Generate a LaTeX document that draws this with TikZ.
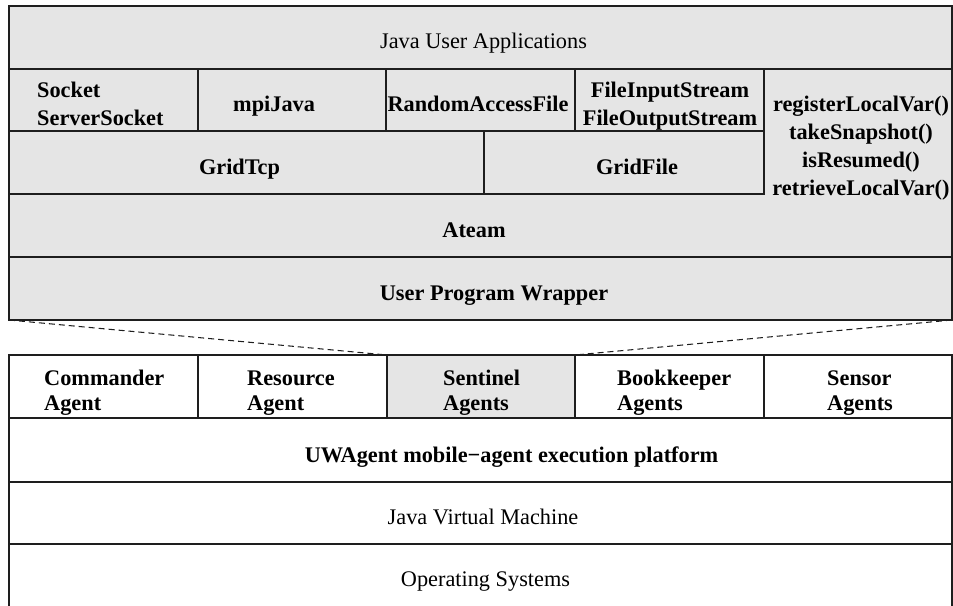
\documentclass[tikz,border=0pt]{standalone}
\usepackage{fontspec}
\setmainfont{Liberation Serif}
\usetikzlibrary{fit}
\definecolor{layergray}{HTML}{E5E5E5}
\definecolor{rule}{HTML}{1E1E1E}
\begin{document}
\begin{tikzpicture}[x=1pt,y=-1pt,
  cell/.style={draw=rule, line width=1.2pt, inner sep=0pt, outer sep=0pt, rectangle},
  graycell/.style={cell, fill=layergray},
  whitecell/.style={cell, fill=white},
  toptext/.style={inner sep=0pt, font=\fontsize{22.3}{28}\selectfont},
  topbold/.style={inner sep=0pt, font=\fontsize{22.3}{28}\selectfont\bfseries},
  bottext/.style={inner sep=0pt, font=\fontsize{22.3}{25}\selectfont},
  botbold/.style={inner sep=0pt, font=\fontsize{22.3}{25}\selectfont\bfseries},
  link/.style={draw=rule, line width=1.05pt, dash pattern=on 6pt off 4pt}]
\useasboundingbox (0,0) rectangle (953,605);

% ---- upper stack: Java user side ----
% the frame itself holds the Ateam layer, which also runs up under the
% checkpoint API column on the right
\node[graycell, fit={(9,6) (952,320)}] (stack) {};
\node[graycell, fit={(9,6) (952,69)}] (apps) {};
\node[graycell, fit={(9,69) (198,131)}] (sock) {};
\node[graycell, fit={(198,69) (386,131)}] (mpi) {};
\node[graycell, fit={(386,69) (575,131)}] (raf) {};
\node[graycell, fit={(575,69) (764,131)}] (fis) {};
\node[graycell, fit={(9,131) (484,194)}] (gtcp) {};
\node[graycell, fit={(484,131) (764,194)}] (gfile) {};
\node[graycell, fit={(9,257) (952,320)}] (wrap) {};

% multi-line labels are anchored on the baseline of their last line
\node[toptext, anchor=base] (t-apps) at (483.5,48) {Java User Applications};
\node[topbold, anchor=base west, align=left] (t-sock) at (37,125) {Socket\\ServerSocket};
\node[topbold, anchor=base west] (t-mpi) at (233,111) {mpiJava};
\node[topbold, anchor=base] (t-raf) at (478,111) {RandomAccessFile};
\node[topbold, anchor=base, align=center] (t-fis) at (670,125) {FileInputStream\\FileOutputStream};
\node[topbold, anchor=base, align=center] (t-api) at (861,195) {registerLocalVar()\\takeSnapshot()\\isResumed()\\retrieveLocalVar()};
\node[topbold, anchor=base] (t-gtcp) at (239.5,174) {GridTcp};
\node[topbold, anchor=base] (t-gfile) at (637,174) {GridFile};
\node[topbold, anchor=base] (t-ateam) at (474,237) {Ateam};
\node[topbold, anchor=base] (t-wrap) at (494,300) {User Program Wrapper};

% ---- lower stack: agent platform ----
\node[whitecell, fit={(9,355) (198,418)}] (cmd) {};
\node[whitecell, fit={(198,355) (387,418)}] (res) {};
\node[graycell, fit={(387,355) (575,418)}] (sen) {};
\node[whitecell, fit={(575,355) (764,418)}] (bk) {};
\node[whitecell, fit={(764,355) (952,418)}] (sns) {};
\node[whitecell, fit={(9,418) (952,482)}] (uw) {};
\node[whitecell, fit={(9,482) (952,544)}] (jvm) {};
\node[whitecell, fit={(9,544) (952,615)}] (os) {};

\node[botbold, anchor=base west, align=left] (t-cmd) at (44,410) {Commander\\Agent};
\node[botbold, anchor=base west, align=left] (t-res) at (247,410) {Resource\\Agent};
\node[botbold, anchor=base west, align=left] (t-sen) at (443,410) {Sentinel\\Agents};
\node[botbold, anchor=base west, align=left] (t-bk) at (617,410) {Bookkeeper\\Agents};
\node[botbold, anchor=base west, align=left] (t-sns) at (827,410) {Sensor\\Agents};
\node[botbold, anchor=base] (t-uw) at (511.5,462) {UWAgent mobile−agent execution platform};
\node[bottext, anchor=base] (t-jvm) at (483,524) {Java Virtual Machine};
\node[bottext, anchor=base] (t-os) at (485.5,586) {Operating Systems};

% ---- the wrapper expands the sentinel agents ----
\draw[link] (wrap.south west) -- (sen.north west);
\draw[link] (wrap.south east) -- (sen.north east);
\end{tikzpicture}
\end{document}
